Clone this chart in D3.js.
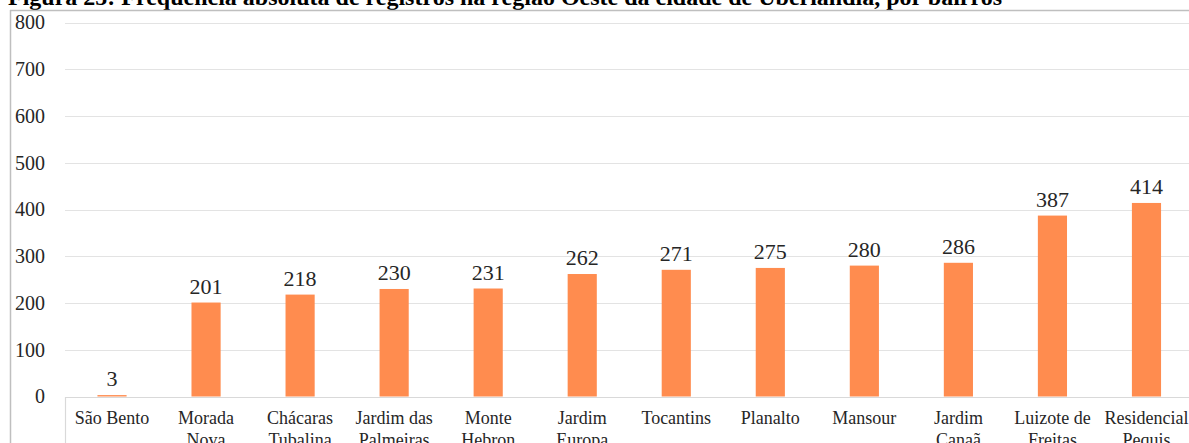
<!DOCTYPE html>
<html>
<head>
<meta charset="utf-8">
<script src="https://cdn.jsdelivr.net/npm/d3@7/dist/d3.min.js"></script>
<style>
  html, body { margin: 0; padding: 0; background: #fff; }
  svg { display: block; }
</style>
</head>
<body>
<svg id="chart" width="1189" height="443" font-family="'Liberation Serif', 'Times New Roman', 'DejaVu Serif', serif"></svg>
<script>
// Bairros da região Oeste (rótulos quebrados em linhas)
const categories = [
  ["São Bento"],
  ["Morada", "Nova"],
  ["Chácaras", "Tubalina"],
  ["Jardim das", "Palmeiras"],
  ["Monte", "Hebron"],
  ["Jardim", "Europa"],
  ["Tocantins"],
  ["Planalto"],
  ["Mansour"],
  ["Jardim", "Canaã"],
  ["Luizote de", "Freitas"],
  ["Residencial", "Pequis"]
];
// Frequência absoluta de registros
const values = [3, 201, 218, 230, 231, 262, 271, 275, 280, 286, 387, 414];
const yTicks = [0, 100, 200, 300, 400, 500, 600, 700, 800];
const title = "Figura 25: Frequência absoluta de registros na região Oeste da cidade de Uberlândia, por bairros";

const serif = "'Liberation Serif', 'Times New Roman', 'DejaVu Serif', serif";
const svg = d3.select("#chart");
const plot = { left: 65, right: 1193.5, top: 22.5, bottom: 396.5 };

const x = d3.scaleBand()
  .domain(d3.range(categories.length))
  .range([plot.left, plot.right])
  .paddingInner(0.69)
  .paddingOuter(0.345);

const y = d3.scaleLinear()
  .domain([0, 800])
  .range([plot.bottom, plot.top]);

// Título (parcialmente recortado no topo)
svg.append("text")
  .attr("x", 8)
  .attr("y", 5)
  .attr("font-family", serif)
  .attr("font-size", 24)
  .attr("font-weight", "bold")
  .attr("fill", "#000")
  .text(title);

// Moldura da área do gráfico
svg.append("line")
  .attr("x1", 10).attr("x2", 1189)
  .attr("y1", 10.5).attr("y2", 10.5)
  .attr("stroke", "#bfbfbf").attr("stroke-width", 1.5);
svg.append("line")
  .attr("x1", 10.5).attr("x2", 10.5)
  .attr("y1", 10).attr("y2", 443)
  .attr("stroke", "#bfbfbf").attr("stroke-width", 1.5);

// Linhas de grade
svg.append("g")
  .selectAll("line")
  .data(yTicks)
  .join("line")
  .attr("x1", plot.left)
  .attr("x2", plot.right)
  .attr("y1", d => Math.round(y(d)) + 0.5)
  .attr("y2", d => Math.round(y(d)) + 0.5)
  .attr("stroke", d => d === 0 ? "#d9d9d9" : "#e3e3e3")
  .attr("stroke-width", 1.2);

// Borda esquerda do eixo de categorias
svg.append("line")
  .attr("x1", plot.left + 0.5).attr("x2", plot.left + 0.5)
  .attr("y1", Math.round(y(0))).attr("y2", 443)
  .attr("stroke", "#d9d9d9").attr("stroke-width", 1.2);

// Rótulos do eixo Y
svg.append("g")
  .attr("font-family", serif)
  .selectAll("text")
  .data(yTicks)
  .join("text")
  .attr("x", 45)
  .attr("y", d => y(d))
  .attr("dy", "0.34em")
  .attr("text-anchor", "end")
  .attr("font-size", 20)
  .attr("fill", "#262626")
  .text(d => d);

// Barras
svg.append("g")
  .selectAll("rect")
  .data(values)
  .join("rect")
  .attr("x", (d, i) => x(i))
  .attr("y", d => y(d))
  .attr("width", x.bandwidth())
  .attr("height", d => y(0) - y(d))
  .attr("fill", "#ff8c4f");

// Rótulos de valor
svg.append("g")
  .attr("font-family", serif)
  .selectAll("text")
  .data(values)
  .join("text")
  .attr("x", (d, i) => x(i) + x.bandwidth() / 2)
  .attr("y", d => y(d) - 9)
  .attr("text-anchor", "middle")
  .attr("font-size", 22)
  .attr("fill", "#262626")
  .text(d => d);

// Rótulos das categorias
const cat = svg.append("g")
  .attr("font-family", serif)
  .selectAll("text")
  .data(categories)
  .join("text")
  .attr("x", (d, i) => x(i) + x.bandwidth() / 2)
  .attr("y", 424)
  .attr("text-anchor", "middle")
  .attr("font-size", 18)
  .attr("fill", "#262626");
cat.selectAll("tspan")
  .data(d => d)
  .join("tspan")
  .attr("x", function () { return d3.select(this.parentNode).attr("x"); })
  .attr("dy", (d, j) => j === 0 ? 0 : 22)
  .text(d => d);
</script>
</body>
</html>
